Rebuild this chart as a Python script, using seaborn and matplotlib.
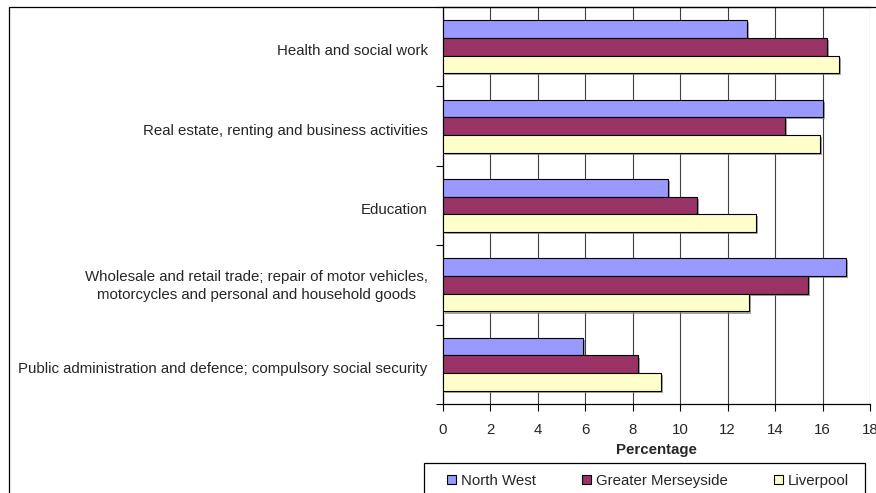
import matplotlib
matplotlib.use("Agg")
import matplotlib.pyplot as plt
import matplotlib.patches as mpatches
import matplotlib.patheffects as pe
import matplotlib.transforms as mtrans
import seaborn as sns
import pandas as pd

categories = [
    "Health and social work",
    "Real estate, renting and business activities",
    "Education",
    "Wholesale and retail trade; repair of motor vehicles,\nmotorcycles and personal and household goods",
    "Public administration and defence; compulsory social security",
]
series = ["North West", "Greater Merseyside", "Liverpool"]
north_west = [12.8, 16.0, 9.5, 17.0, 5.9]
greater_merseyside = [16.2, 14.4, 10.7, 15.4, 8.2]
liverpool = [16.7, 15.9, 13.2, 12.9, 9.2]
colors = ["#9999FF", "#993366", "#FFFFCC"]
x_ticks = [0, 2, 4, 6, 8, 10, 12, 14, 16, 18]

rows = []
for name, vals in zip(series, [north_west, greater_merseyside, liverpool]):
    for c, v in zip(categories, vals):
        rows.append({"Category": c, "Series": name, "Value": v})
df = pd.DataFrame(rows)

sns.set_style("white")
plt.rcParams["font.family"] = ["Liberation Sans", "DejaVu Sans"]
FS = 10.8
plt.rcParams["font.size"] = FS

W, H = 876, 493
fig = plt.figure(figsize=(W / 100, H / 100), dpi=100)
ax = fig.add_axes([443 / W, 1 - 404 / H, (870 - 443) / W, (404 - 7) / H])

sns.barplot(data=df, y="Category", x="Value", hue="Series", order=categories,
            hue_order=series, palette=colors, orient="h", width=0.67,
            edgecolor="black", linewidth=0.8, saturation=1, ax=ax, legend=False,
            zorder=3)

for p in ax.patches:
    p.set_path_effects([pe.SimplePatchShadow(offset=(1.5, -1.5), shadow_rgbFace="#808080", alpha=0.7),
                        pe.Normal()])

ax.set_xlim(0, 18)
ax.set_ylim(4.5, -0.5)
ax.set_xticks(x_ticks)
ax.set_xticklabels([str(t) for t in x_ticks])
ax.xaxis.grid(True, color="#404040", linewidth=0.8, zorder=0)
ax.set_axisbelow(True)
ax.tick_params(axis="x", direction="out", length=5, width=0.8, color="black", pad=9, labelsize=FS, bottom=True)
ax.tick_params(axis="y", which="major", length=0, pad=11, labelsize=FS)
ax.set_yticks([i - 0.5 for i in range(len(categories) + 1)], minor=True)
ax.tick_params(axis="y", which="minor", direction="out", length=5, width=0.8, color="black", left=True)
for lbl in ax.get_yticklabels():
    lbl.set_multialignment("center")
    lbl.set_linespacing(1.4)
    dy = 2.5 if "\n" in lbl.get_text() else -3
    shift = mtrans.ScaledTranslation(0, dy / 100, fig.dpi_scale_trans)
    lbl.set_transform(lbl.get_transform() + shift)

ax.set_ylabel("")
ax.set_xlabel("Percentage", fontweight="bold", fontsize=FS, labelpad=4)

for s in ["left", "bottom", "top"]:
    ax.spines[s].set_visible(True)
    ax.spines[s].set_color("black")
    ax.spines[s].set_linewidth(0.9)
ax.spines["right"].set_visible(False)

# outer chart frame
frame = mpatches.Rectangle((9 / W, -0.2), 1.2, 1.2 - 7 / H, transform=fig.transFigure,
                           fill=False, edgecolor="black", linewidth=0.9, clip_on=False)
fig.patches.append(frame)

# legend frame
lframe = mpatches.Rectangle((424 / W, -0.2), (865 - 424) / W, 0.2 + 1 - 463 / H,
                            transform=fig.transFigure, fill=False, edgecolor="black",
                            linewidth=0.9, clip_on=False)
fig.patches.append(lframe)

handles = [mpatches.Patch(facecolor=c, edgecolor="black", linewidth=0.8) for c in colors]
fig.legend(handles, series, loc="center", ncol=3,
           bbox_to_anchor=(648 / W, 1 - 481 / H),
           frameon=False, fontsize=FS,
           handlelength=0.6, handleheight=0.6, handletextpad=0.3,
           columnspacing=3.1, borderpad=0, borderaxespad=0)

fig.savefig("out.png", dpi=100)
